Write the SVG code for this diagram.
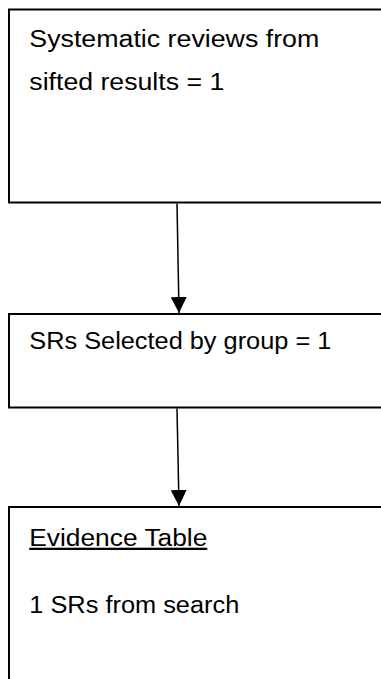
<svg xmlns="http://www.w3.org/2000/svg" width="381" height="679" viewBox="0 0 381 679">
  <style>
    .box { fill: #ffffff; stroke: #000000; stroke-width: 2; }
    .lbl { font-family: "Liberation Sans", Arial, sans-serif; font-size: 23px; fill: #000000; }
    .conn { stroke: #000000; stroke-width: 1.5; fill: none; }
  </style>
  <defs>
    <marker id="arrow" markerUnits="userSpaceOnUse" markerWidth="16" markerHeight="16" refX="16" refY="8" orient="auto" viewBox="0 0 16 16">
      <path d="M0,0 L16,8 L0,16 z" fill="#000000"/>
    </marker>
  </defs>
  <rect width="381" height="679" fill="#ffffff"/>
  <g id="node-sifted">
    <rect class="box" x="9" y="9.5" width="400" height="193"/>
    <text class="lbl" x="29.3" y="46.5" textLength="290" lengthAdjust="spacingAndGlyphs">Systematic reviews from</text>
    <text class="lbl" x="29.3" y="89.5" textLength="195" lengthAdjust="spacingAndGlyphs">sifted results = 1</text>
  </g>
  <g id="node-selected">
    <rect class="box" x="9" y="314" width="400" height="93.5"/>
    <text class="lbl" x="29.3" y="349.3" textLength="302" lengthAdjust="spacingAndGlyphs">SRs Selected by group = 1</text>
  </g>
  <g id="node-evidence">
    <rect class="box" x="9" y="507" width="400" height="200"/>
    <text class="lbl" x="29.3" y="545.7" textLength="178" lengthAdjust="spacingAndGlyphs" text-decoration="underline">Evidence Table</text>
    <text class="lbl" x="29.3" y="613" textLength="210" lengthAdjust="spacingAndGlyphs">1 SRs from search</text>
  </g>
  <g id="connectors">
    <line class="conn" x1="177" y1="203.5" x2="179" y2="313" marker-end="url(#arrow)"/>
    <line class="conn" x1="177" y1="408.5" x2="179" y2="506" marker-end="url(#arrow)"/>
  </g>
</svg>
